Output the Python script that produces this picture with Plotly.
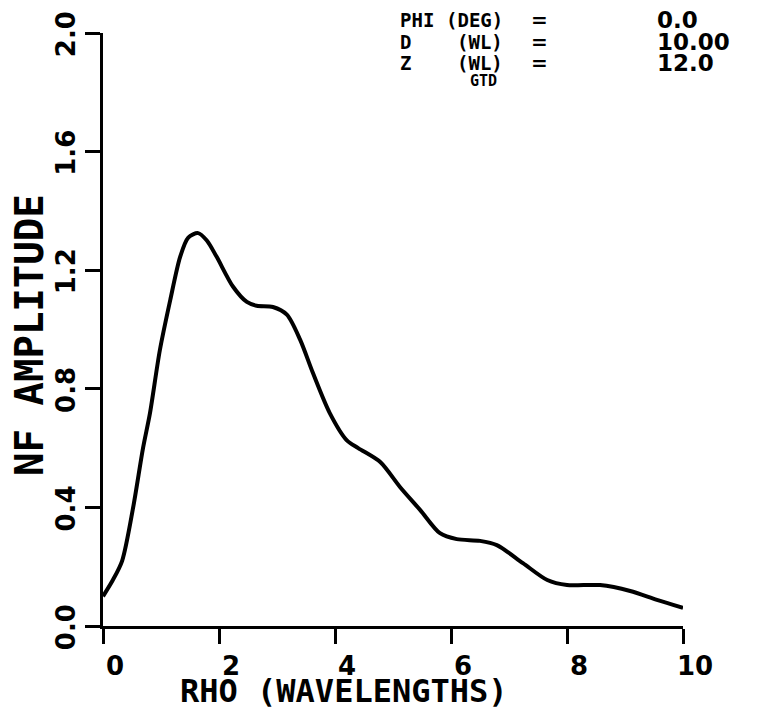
import plotly.graph_objects as go

rho = [0.0, 0.17, 0.33, 0.52, 0.69, 0.81, 0.98, 1.16, 1.33, 1.47, 1.64, 1.79, 1.96, 2.24, 2.48, 2.65,
       2.93, 3.17, 3.40, 3.62, 3.91, 4.20, 4.40, 4.78, 5.12, 5.47, 5.81, 6.10, 6.50, 6.79, 7.24,
       7.66, 8.0, 8.57, 9.09, 9.55, 10.0]
amp = [0.10, 0.155, 0.22, 0.40, 0.60, 0.718, 0.93, 1.10, 1.245, 1.31, 1.325, 1.30, 1.245, 1.145, 1.093, 1.08,
       1.076, 1.05, 0.965, 0.853, 0.718, 0.627, 0.60, 0.553, 0.469, 0.391, 0.313, 0.293, 0.287, 0.273, 0.212,
       0.155, 0.138, 0.138, 0.118, 0.088, 0.061]

x_ticks = [0, 2, 4, 6, 8, 10]
x_tick_labels = ["0", "2", "4", "6", "8", "10"]
y_ticks = [0.0, 0.4, 0.8, 1.2, 1.6, 2.0]
y_tick_labels = ["0.0", "0.4", "0.8", "1.2", "1.6", "2.0"]

x_title = "RHO (WAVELENGTHS)"
y_title = "NF AMPLITUDE"
param_names = ["PHI", "D", "Z"]
param_units = ["(DEG)", "(WL)", "(WL)"]
param_values = ["0.0", "10.00", "12.0"]
method_label = "GTD"

MONO = "DejaVu Sans Mono"
SANS = "DejaVu Sans"
OFF = 8                      # default page body margin
W, H = 766 - 2 * OFF, 719 - 2 * OFF
L, R, T, B = 103 - OFF, W - (683 - OFF), 33 - OFF, H - (626 - OFF)
PW, PH = W - L - R, H - T - B

def px(page_x):
    return (page_x - OFF - L) / PW

def py(page_y):
    return (H - B - (page_y - OFF)) / PH

fig = go.Figure()
fig.add_trace(go.Scatter(x=rho, y=amp, mode="lines",
                         line=dict(color="black", width=4, shape="spline", smoothing=0.8),
                         showlegend=False, hoverinfo="skip", cliponaxis=False))

fig.update_layout(
    width=W, height=H, autosize=False,
    margin=dict(l=L, r=R, t=T, b=B, pad=0),
    paper_bgcolor="white", plot_bgcolor="white",
    font=dict(family=SANS, color="black"),
)
fig.update_xaxes(range=[0, 10], tickvals=x_ticks, ticktext=[f"<b>{t}</b>" for t in x_tick_labels],
                 automargin=False,
                 showgrid=False, zeroline=False, showline=True, linecolor="black", linewidth=3,
                 ticks="outside", ticklen=15, tickwidth=3, tickcolor="black", ticklabelshift=12,
                 ticklabeloverflow="allow",
                 tickfont=dict(family=SANS, size=26, color="black"))
fig.update_yaxes(range=[0, 2.0], tickvals=y_ticks, ticktext=[f"<b>{t}</b>" for t in y_tick_labels],
                 automargin=False,
                 showgrid=False, zeroline=False, showline=True, linecolor="black", linewidth=3,
                 ticks="outside", ticklen=15, tickwidth=3, tickcolor="black", tickangle=-90,
                 ticklabelshift=5, ticklabeloverflow="allow",
                 tickfont=dict(family=SANS, size=26, color="black"))

fig.add_annotation(xref="paper", yref="paper", x=px(344), y=py(691), xanchor="center", yanchor="middle",
                   text=f"<b>{x_title}</b>", showarrow=False, font=dict(family=MONO, size=32, color="black"))
fig.add_annotation(xref="paper", yref="paper", x=px(30), y=py(335), xanchor="center", yanchor="middle",
                   textangle=-90, text=f"<b>{y_title}</b>", showarrow=False,
                   font=dict(family=MONO, size=39, color="black"))

rows_y = [20, 42, 63]
for i in range(3):
    fig.add_annotation(xref="paper", yref="paper", x=px(398), y=py(rows_y[i]), xanchor="left", yanchor="middle",
                       text=f"<b>{param_names[i]}</b>", showarrow=False, font=dict(family=MONO, size=19, color="black"))
    fig.add_annotation(xref="paper", yref="paper", x=px(505), y=py(rows_y[i]), xanchor="right", yanchor="middle",
                       text=f"<b>{param_units[i]}</b>", showarrow=False, font=dict(family=MONO, size=19, color="black"))
    fig.add_annotation(xref="paper", yref="paper", x=px(539), y=py(rows_y[i]), xanchor="center", yanchor="middle",
                       text="<b>=</b>", showarrow=False, font=dict(family=SANS, size=20, color="black"))
    fig.add_annotation(xref="paper", yref="paper", x=px(655), y=py(rows_y[i]), xanchor="left", yanchor="middle",
                       text=f"<b>{param_values[i]}</b>", showarrow=False, font=dict(family=SANS, size=23, color="black"))
fig.add_annotation(xref="paper", yref="paper", x=px(483), y=py(81), xanchor="center", yanchor="middle",
                   text=f"<b>{method_label}</b>", showarrow=False, font=dict(family=MONO, size=15, color="black"))

fig.write_html("out.html")
